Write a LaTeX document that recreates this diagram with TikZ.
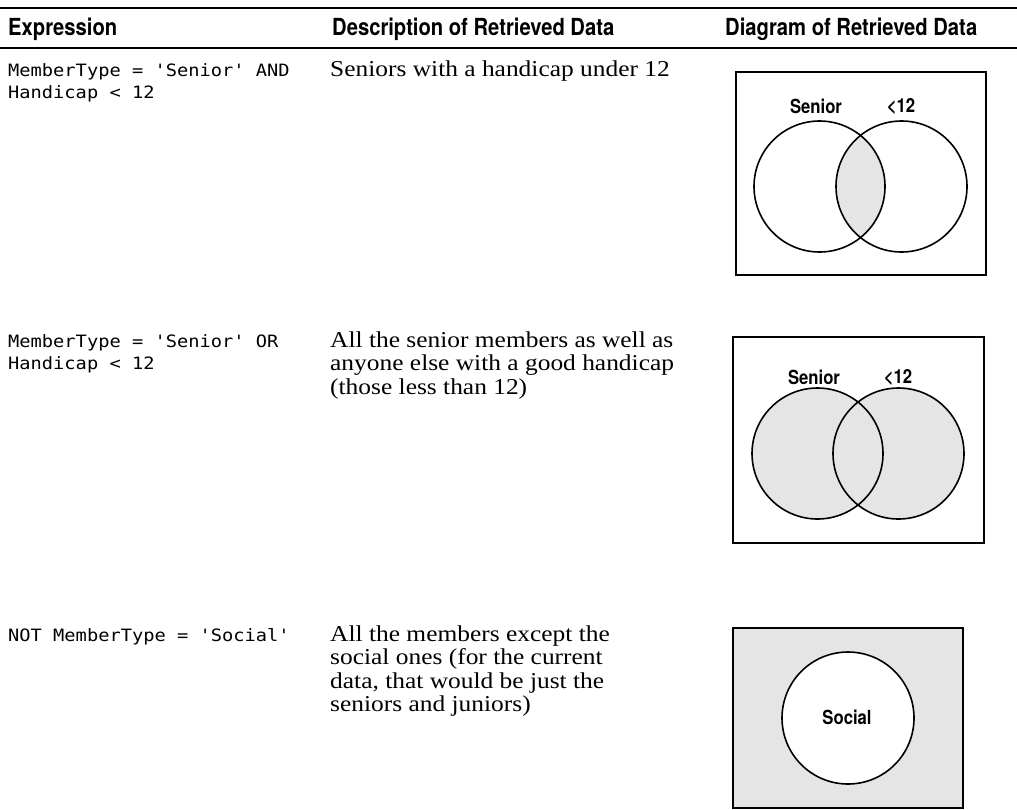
\documentclass[tikz,border=0pt]{standalone}
\usepackage{fontspec}
\newfontfamily\headfont{TeX Gyre Heros}[FakeStretch=0.86]
\newfontfamily\codefont{DejaVu Sans Mono}[FakeStretch=1.1]
\newfontfamily\descfont{Liberation Serif}[FakeStretch=1.12]
\definecolor{venngray}{RGB}{229,229,229}
\tikzset{
  head/.style={anchor=base west, inner sep=0pt, font=\headfont\bfseries\fontsize{23.5}{28}\selectfont},
  code/.style={anchor=base west, inner sep=0pt, font=\codefont\fontsize{17}{22}\selectfont},
  desc/.style={anchor=base west, inner sep=0pt, font=\descfont\fontsize{22.7}{24.5}\selectfont},
  vlabel/.style={inner sep=0pt, font=\headfont\bfseries\fontsize{19.4}{22}\selectfont},
  frame/.style={line width=2pt},
  ring/.style={line width=1.6pt},
  rule/.style={line width=2pt}
}
\begin{document}
\begin{tikzpicture}[x=1pt,y=-1pt]
\useasboundingbox (0,0) rectangle (1017,809);
% rules
\coordinate (r1l) at (0,7.5); \coordinate (r1r) at (1017,7.5);
\coordinate (r2l) at (0,48);  \coordinate (r2r) at (1017,48);
\draw[rule] (r1l) -- (r1r);
\draw[rule] (r2l) -- (r2r);
% headers
\node[head] (h1) at (8,35) {Expression};
\node[head] (h2) at (332,35) {Description of Retrieved Data};
\node[head] (h3) at (725,35) {Diagram of Retrieved Data};
% row 1
\node[code] (e1a) at (8,76) {MemberType = 'Senior' AND};
\node[code] (e1b) at (8,98) {Handicap < 12};
\node[desc] (d1a) at (330,76) {Seniors with a handicap under 12};
% row 2
\node[code] (e2a) at (8,347) {MemberType = 'Senior' OR};
\node[code] (e2b) at (8,369) {Handicap < 12};
\node[desc] (d2a) at (330,347) {All the senior members as well as};
\node[desc] (d2b) at (330,370.5) {anyone else with a good handicap};
\node[desc] (d2c) at (330,394) {(those less than 12)};
% row 3
\node[code] (e3a) at (8,641) {NOT MemberType = 'Social'};
\node[desc] (d3a) at (330,641) {All the members except the};
\node[desc] (d3b) at (330,664.5) {social ones (for the current};
\node[desc] (d3c) at (330,688) {data, that would be just the};
\node[desc] (d3d) at (330,711.5) {seniors and juniors)};
% diagram 1: AND
\draw[frame] (736,72) rectangle (986,275);
\begin{scope}
  \clip (819.5,186.5) circle[radius=65.5];
  \fill[venngray] (901.5,186.5) circle[radius=65.5];
\end{scope}
\draw[ring] (819.5,186.5) circle[radius=65.5];
\draw[ring] (901.5,186.5) circle[radius=65.5];
\node[vlabel] (s1) at (816,106) {Senior};
\node[vlabel] (l1) at (901,106) {<12};
% diagram 2: OR
\draw[frame] (733,337) rectangle (984,543);
\fill[venngray] (817.5,453.5) circle[radius=65.5];
\fill[venngray] (898.5,453.5) circle[radius=65.5];
\draw[ring] (817.5,453.5) circle[radius=65.5];
\draw[ring] (898.5,453.5) circle[radius=65.5];
\node[vlabel] (s2) at (814,377) {Senior};
\node[vlabel] (l2) at (898,377) {<12};
% diagram 3: NOT
\draw[frame, fill=venngray] (733,628) rectangle (963,807.5);
\draw[ring, fill=white] (848,718) circle[radius=66];
\node[vlabel] (so) at (847,717) {Social};
\end{tikzpicture}
\end{document}
